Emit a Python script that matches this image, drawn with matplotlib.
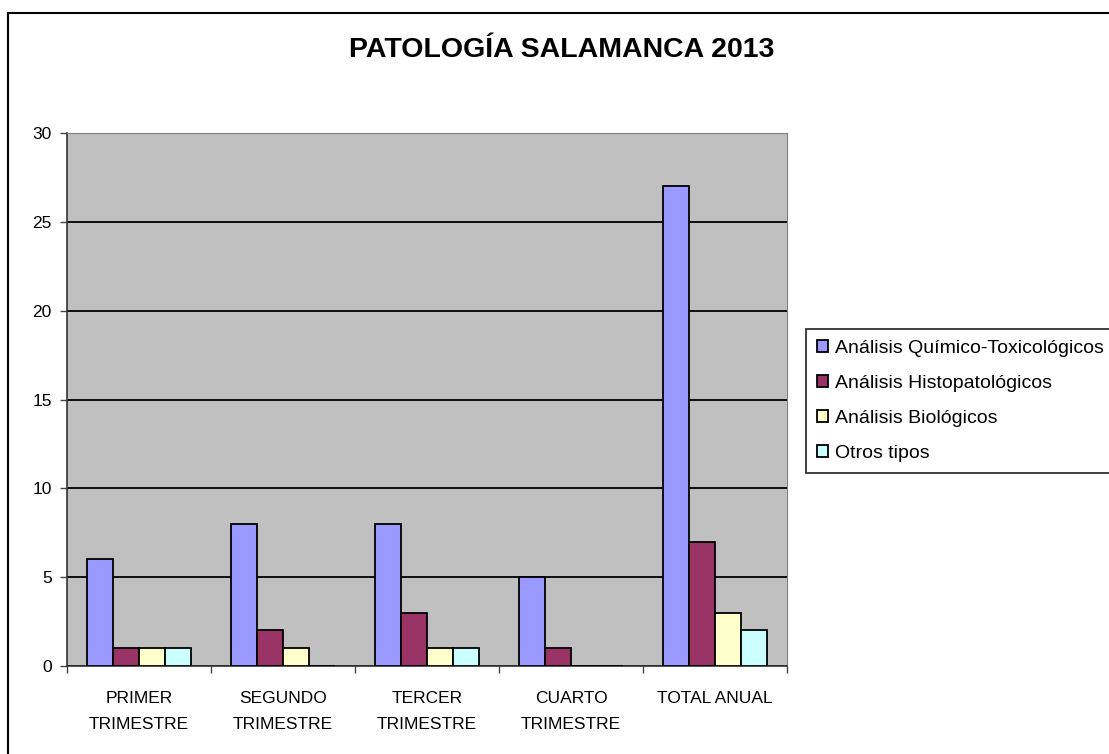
import numpy as np
import matplotlib
matplotlib.use("Agg")
import matplotlib.pyplot as plt
from matplotlib.patches import Rectangle
from matplotlib.ticker import FixedLocator

plt.rcParams['font.family'] = ['Liberation Sans', 'DejaVu Sans']

# Datos
categorias = ["PRIMER\nTRIMESTRE", "SEGUNDO\nTRIMESTRE", "TERCER\nTRIMESTRE",
              "CUARTO\nTRIMESTRE", "TOTAL ANUAL"]
quimico_toxicologicos = [6, 8, 8, 5, 27]
histopatologicos = [1, 2, 3, 1, 7]
biologicos = [1, 1, 1, 0, 3]
otros_tipos = [1, 0, 1, 0, 2]

series = [
    ("Análisis Químico-Toxicológicos", quimico_toxicologicos, "#9999FF"),
    ("Análisis Histopatológicos", histopatologicos, "#993366"),
    ("Análisis Biológicos", biologicos, "#FFFFCC"),
    ("Otros tipos", otros_tipos, "#CCFFFF"),
]

fig = plt.figure(figsize=(11.09, 7.54), dpi=100)
ax = fig.add_axes([67 / 1109, 1 - 666 / 754, 720 / 1109, 533 / 754])
ax.set_facecolor("#C0C0C0")

x = np.arange(len(categorias))
ancho = 0.18
for i, (nombre, valores, color) in enumerate(series):
    ax.bar(x + (i - 1.5) * ancho, valores, ancho, color=color, edgecolor="black",
           linewidth=1.3, label=nombre, zorder=3)

ax.set_xlim(-0.5, len(categorias) - 0.5)
ax.set_ylim(0, 30)
ax.set_yticks(range(0, 31, 5))
ax.yaxis.grid(True, color="black", linewidth=1.3, zorder=1)
ax.set_axisbelow(True)

ax.set_xticks(x)
ax.set_xticklabels(categorias, fontsize=12.5, linespacing=1.9)
ax.xaxis.set_minor_locator(FixedLocator(np.arange(-0.5, len(categorias), 1)))
ax.tick_params(axis="x", which="major", length=0, pad=18)
ax.tick_params(axis="x", which="minor", length=5, width=1, color="#444444")
ax.tick_params(axis="y", length=5, width=1, color="#444444", labelsize=12.5, pad=6)

for lado in ["top", "right"]:
    ax.spines[lado].set_color("#808080")
for lado in ["left", "bottom"]:
    ax.spines[lado].set_color("#333333")
    ax.spines[lado].set_linewidth(1.2)

fig.text(562 / 1109, 1 - 57 / 754, "PATOLOGÍA SALAMANCA 2013", ha="center",
         va="baseline", fontsize=20.5, fontweight="bold")

leg = fig.legend(loc="upper left", bbox_to_anchor=(806 / 1109, 1 - 329 / 754),
                 fontsize=14, frameon=True, fancybox=False, edgecolor="black",
                 handlelength=0.6, handleheight=0.6, handletextpad=0.35,
                 labelspacing=0.93, borderpad=0.55, borderaxespad=0)
leg.get_frame().set_linewidth(1.3)

# Marco exterior
fig.patches.append(Rectangle((8 / 1109, -0.02), 1.05, 1 - 13 / 754 + 0.02,
                             transform=fig.transFigure, fill=False,
                             edgecolor="black", linewidth=1.5))

fig.savefig("out.png", dpi=100)
